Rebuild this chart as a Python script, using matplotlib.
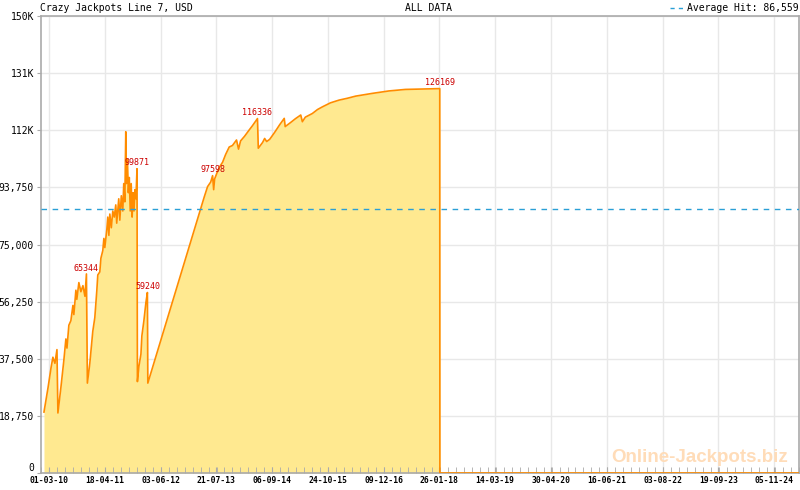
import matplotlib
matplotlib.use("Agg")
import matplotlib.pyplot as plt
import matplotlib.dates as mdates
import numpy as np
import pandas as pd

# jackpot value over time
dates = [
    "2010-01-23", "2010-02-22", "2010-03-16", "2010-03-30", "2010-04-14", "2010-04-29",
    "2010-05-06", "2010-05-28", "2010-06-19", "2010-07-04", "2010-07-12", "2010-07-26",
    "2010-08-10", "2010-08-25", "2010-09-01", "2010-09-16", "2010-09-23", "2010-10-08",
    "2010-10-23", "2010-11-07", "2010-11-22", "2010-12-03", "2010-12-10", "2010-12-28",
    "2011-01-19", "2011-02-03", "2011-02-18", "2011-02-25", "2011-03-12", "2011-03-20",
    "2011-04-03", "2011-04-11", "2011-04-18", "2011-05-03", "2011-05-10", "2011-05-18",
    "2011-05-25", "2011-06-05", "2011-06-16", "2011-06-27", "2011-07-08", "2011-07-15",
    "2011-07-30", "2011-08-07", "2011-08-18", "2011-08-29", "2011-09-05", "2011-09-13",
    "2011-09-20", "2011-09-25", "2011-10-02", "2011-10-09", "2011-10-16", "2011-10-23",
    "2011-10-30", "2011-11-06", "2011-11-13", "2011-11-20", "2011-11-27", "2011-12-04",
    "2011-12-12", "2011-12-15", "2011-12-26", "2012-01-10", "2012-01-17", "2012-02-01",
    "2012-02-16", "2012-02-27", "2012-03-01", "2013-03-28", "2013-04-23", "2013-05-17",
    "2013-06-09", "2013-06-23", "2013-07-01", "2013-07-08", "2013-07-30", "2013-08-14",
    "2013-09-05", "2013-09-27", "2013-10-24", "2013-11-17", "2013-12-17", "2014-01-01",
    "2014-01-16", "2014-02-14", "2014-03-21", "2014-04-14", "2014-05-21", "2014-05-27",
    "2014-06-28", "2014-07-13", "2014-07-28", "2014-08-19", "2014-09-25", "2014-11-01",
    "2014-12-05", "2014-12-12", "2015-01-20", "2015-02-26", "2015-04-06", "2015-04-18",
    "2015-05-10", "2015-07-01", "2015-08-08", "2015-09-14", "2015-11-12", "2016-01-15",
    "2016-03-16", "2016-05-16", "2016-09-16", "2017-01-17", "2017-05-19", "2018-01-28",
    "2018-01-29", "2025-05-08",
]
values = [
    20000, 28000, 34500, 38000, 36000, 40500,
    19700, 28000, 37000, 44000, 41000, 48500,
    50000, 55000, 52000, 60000, 57000, 62500,
    59500, 61500, 58000, 65344, 29500, 36000,
    46500, 51000, 60000, 65000, 66000, 70500,
    73000, 77000, 74000, 80000, 84000, 78000,
    85000, 80500, 86000, 84000, 88000, 82000,
    90000, 83000, 91000, 86000, 95000, 89000,
    112000, 95000, 103000, 92000, 97000, 86000,
    95000, 84000, 92000, 86000, 93000, 90000,
    99871, 30000, 35000, 39000, 45000, 50000,
    56000, 59240, 29500, 86900, 90700, 94000,
    95500, 97598, 93000, 96500, 99000, 100500,
    102000, 104500, 107000, 107500, 109300, 106300,
    109000, 110500, 112600, 114000, 116336, 106600,
    108500, 109800, 108800, 109500, 111800, 114300,
    116400, 113700, 115000, 116300, 117500, 115300,
    116800, 118000, 119300, 120200, 121500, 122400,
    123000, 123700, 124600, 125400, 125900, 126169,
    0, 0,
]

# labelled hits
hit_dates = ["2010-12-03", "2011-12-12", "2012-02-27", "2013-06-23", "2014-05-21", "2018-01-28"]
hit_values = [65344, 99871, 59240, 97598, 116336, 126169]

average_hit = 86559

xtick_dates = ["2010-03-01", "2011-04-18", "2012-06-03", "2013-07-21", "2014-09-06",
               "2015-10-24", "2016-12-09", "2018-01-26", "2019-03-14", "2020-04-30",
               "2021-06-16", "2022-08-03", "2023-09-19", "2024-11-05"]
xtick_labels = ["01-03-10", "18-04-11", "03-06-12", "21-07-13", "06-09-14", "24-10-15",
                "09-12-16", "26-01-18", "14-03-19", "30-04-20", "16-06-21", "03-08-22",
                "19-09-23", "05-11-24"]
ytick_values = [0, 18750, 37500, 56250, 75000, 93750, 112500, 131250, 150000]
ytick_labels = ["0", "18,750", "37,500", "56,250", "75,000", "93,750", "112K", "131K", "150K"]

mono = ["DejaVu Sans Mono"]
grid_c = "#e8e8e8"
axis_c = "#aaaaaa"

fig = plt.figure(figsize=(8, 4.9), dpi=100)
ax = fig.add_axes([41 / 800, 17 / 490, 758 / 800, 457 / 490])

x = mdates.date2num(pd.to_datetime(dates))
xt = mdates.date2num(pd.to_datetime(xtick_dates))

# grid drawn by hand so it stays under the fill while ticks stay on top
for t in xt:
    ax.axvline(t, color=grid_c, linewidth=1, zorder=0.1)
for t in ytick_values[1:]:
    ax.axhline(t, color=grid_c, linewidth=1, zorder=0.1)

ax.fill_between(x, values, 0, color="#ffe990", linewidth=0, zorder=1)
ax.plot(x, values, color="#ff8c00", linewidth=1.2, zorder=3)

ax.axhline(average_hit, color="#2a9fd6", linewidth=1, dashes=(4, 4), zorder=4)

for d, v in zip(hit_dates, hit_values):
    ax.annotate(str(v), (mdates.date2num(pd.Timestamp(d)), v), xytext=(0, 1),
                textcoords="offset points", ha="center", va="bottom",
                fontsize=6, family=mono, color="#cc0000", zorder=5)

ax.set_xlim(mdates.date2num(pd.Timestamp("2010-01-23")), mdates.date2num(pd.Timestamp("2025-05-08")))
ax.set_ylim(0, 150000)
ax.set_xticks(xt)
ax.set_xticklabels(xtick_labels, family=mono, fontsize=5.8, fontweight="bold")
step = (xt[1] - xt[0]) / 7
minor = np.arange(xt[0] - step, ax.get_xlim()[1], step)
ax.set_xticks(minor, minor=True)
ax.set_yticks(ytick_values)
ax.set_yticklabels(ytick_labels, family=mono, fontsize=7)
ax.get_yticklabels()[0].set_va("bottom")

ax.tick_params(axis="x", which="both", direction="in", length=4, color=axis_c, pad=2)
ax.tick_params(axis="y", direction="out", length=3, color=axis_c, pad=2)
for s in ax.spines.values():
    s.set_color(axis_c)
    s.set_linewidth(1.2)
    s.set_zorder(2)

fig.text(40 / 800, 1 - 8 / 490, "Crazy Jackpots Line 7, USD", family=mono, fontsize=7,
         va="center", ha="left")
fig.text(405 / 800, 1 - 8 / 490, "ALL DATA", family=mono, fontsize=7, va="center", ha="left")
fig.text(799 / 800, 1 - 8 / 490, "Average Hit: 86,559", family=mono, fontsize=7,
         va="center", ha="right")
fig.lines.append(plt.Line2D([670 / 800, 683 / 800], [1 - 8 / 490] * 2, transform=fig.transFigure,
                            color="#2a9fd6", linewidth=1, dashes=(3, 3)))

ax.text(0.986, 0.035, "Online-Jackpots.biz", transform=ax.transAxes, ha="right", va="center",
        fontsize=13.5, fontweight="bold", family="Liberation Sans", color="#ffdcb8", zorder=0.5)

fig.savefig("out.png", dpi=100)
